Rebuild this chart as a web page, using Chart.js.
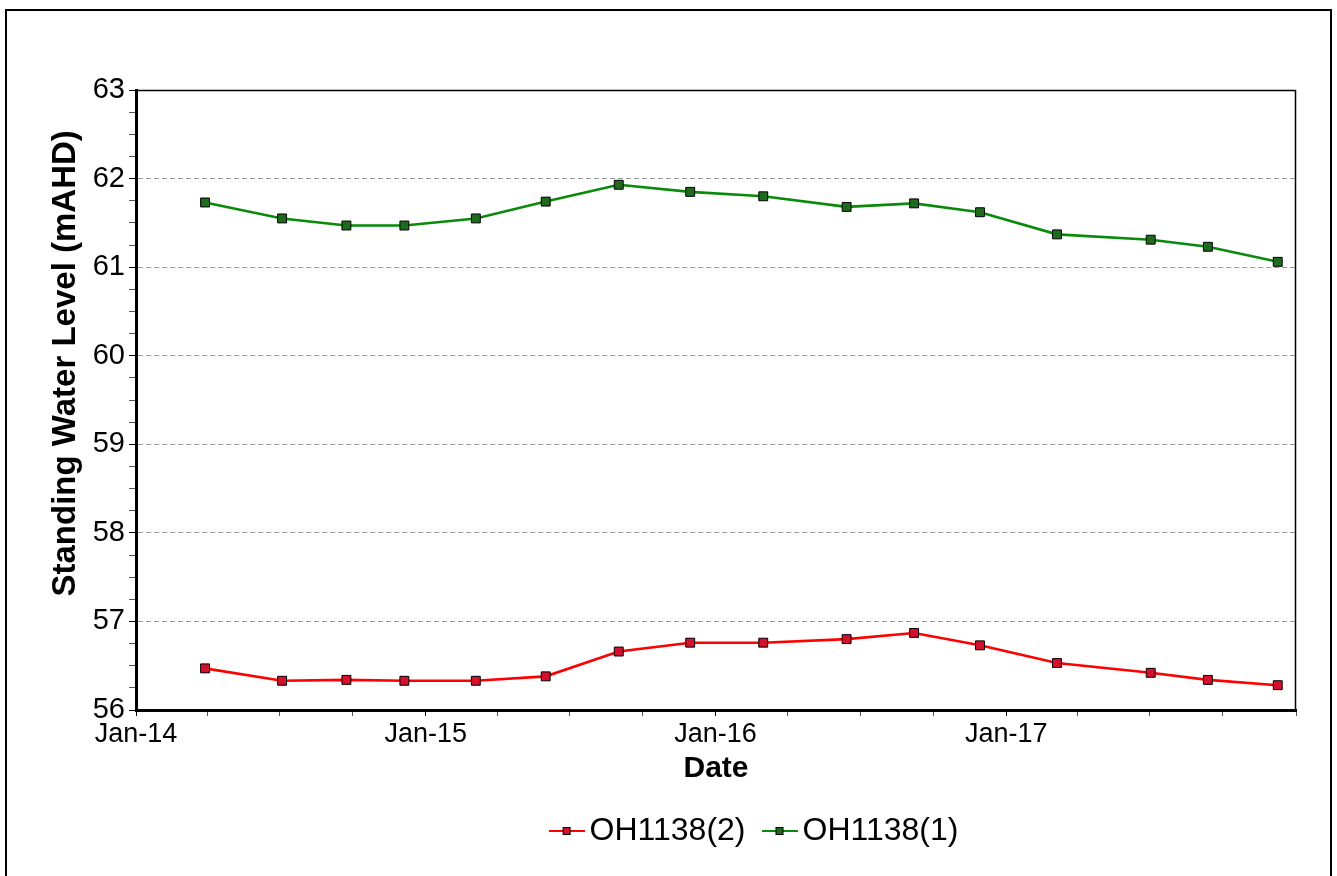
<!DOCTYPE html>
<html>
<head>
<meta charset="utf-8">
<script src="https://cdn.jsdelivr.net/npm/chart.js@4.4.0/dist/chart.umd.min.js"></script>
<style>
html,body{margin:0;padding:0;background:#fff;}
#wrap{position:relative;width:1337px;height:876px;}
</style>
</head>
<body>
<div id="wrap"><canvas id="c" width="1337" height="876"></canvas></div>
<script>
// ---- data ----
const sampleDates = ['2014-03-29','2014-07-04','2014-09-23','2014-12-05','2015-03-05','2015-06-01','2015-09-01','2015-11-30','2016-03-01','2016-06-14','2016-09-07','2016-11-29','2017-03-06','2017-07-02','2017-09-12','2017-12-09'];
const oh1138_2 = [56.47,56.33,56.34,56.33,56.33,56.38,56.66,56.76,56.76,56.80,56.87,56.73,56.53,56.42,56.34,56.28];
const oh1138_1 = [61.73,61.55,61.47,61.47,61.55,61.74,61.93,61.85,61.80,61.68,61.72,61.62,61.37,61.31,61.23,61.06];
const seriesNames = ['OH1138(2)','OH1138(1)'];
const xTickLabels = ['Jan-14','Jan-15','Jan-16','Jan-17'];
const xStart = '2014-01-01';
const xEnd = '2018-01-01';
const yTickLabels = ['56','57','58','59','60','61','62','63'];
const yTitle = 'Standing Water Level (mAHD)';
const xTitle = 'Date';

// ---- helpers ----
const DAY = 86400000;
const t0 = Date.parse(xStart);
const dayOf = s => (Date.parse(s) - t0) / DAY;
const FONT = "'Liberation Sans', Arial, Helvetica, sans-serif";

// quarterly tick positions (minor) with yearly labels
const quarterTicks = [];
for (let y = 2014; y <= 2018; y++) {
  for (let m = 0; m < 12; m += 3) {
    const d = Date.UTC(y, m, 1);
    if (d > Date.parse(xEnd)) break;
    quarterTicks.push({ value: (d - t0) / DAY });
  }
}
const labelFor = {};
xTickLabels.forEach(l => {
  const yr = 2000 + parseInt(l.split('-')[1], 10);
  labelFor[(Date.UTC(yr, 0, 1) - t0) / DAY] = l;
});

function makeMarker(lineColor, fillColor) {
  const c = document.createElement('canvas');
  c.width = 36; c.height = 10;
  const g = c.getContext('2d');
  g.strokeStyle = lineColor; g.lineWidth = 2;
  g.beginPath(); g.moveTo(0, 5); g.lineTo(36, 5); g.stroke();
  g.fillStyle = fillColor; g.fillRect(14.5, 1.5, 7, 7);
  g.strokeStyle = '#000'; g.lineWidth = 1; g.strokeRect(14.5, 1.5, 7, 7);
  return c;
}
const styles = [
  { line: '#ff0000', fill: '#d4102c' },
  { line: '#0a8a0a', fill: '#1e6b1e' }
];
const markers = styles.map(s => makeMarker(s.line, s.fill));

const toPts = vals => vals.map((v, i) => ({ x: dayOf(sampleDates[i]), y: v }));

const framePlugin = {
  id: 'frame',
  beforeDraw(chart) {
    const ctx = chart.ctx;
    ctx.save();
    ctx.fillStyle = '#fff';
    ctx.fillRect(0, 0, chart.width, chart.height);
    ctx.strokeStyle = '#000';
    ctx.lineWidth = 2;
    ctx.strokeRect(6, 10, 1325, 880);
    ctx.restore();
  },
  beforeDatasetsDraw(chart) {
    const { ctx, chartArea: a } = chart;
    ctx.save();
    ctx.strokeStyle = '#000';
    ctx.lineWidth = 1.5;
    ctx.beginPath();
    ctx.moveTo(a.left, a.top + 0.5);
    ctx.lineTo(a.right - 0.5, a.top + 0.5);
    ctx.lineTo(a.right - 0.5, a.bottom);
    ctx.stroke();
    ctx.restore();
  },
  afterLayout(chart) {
    const lg = chart.legend;
    if (lg) { lg.left += 111; lg.right += 111; }
  }
};

new Chart(document.getElementById('c'), {
  type: 'line',
  data: {
    datasets: [
      {
        label: seriesNames[0],
        data: toPts(oh1138_2),
        borderColor: styles[0].line,
        backgroundColor: styles[0].fill,
        pointBackgroundColor: styles[0].fill,
        pointBorderColor: '#000',
        pointBorderWidth: 1,
        pointStyle: 'rect',
        pointRadius: 6.3,
        borderWidth: 2.6,
        tension: 0,
        fill: false
      },
      {
        label: seriesNames[1],
        data: toPts(oh1138_1),
        borderColor: styles[1].line,
        backgroundColor: styles[1].fill,
        pointBackgroundColor: styles[1].fill,
        pointBorderColor: '#000',
        pointBorderWidth: 1,
        pointStyle: 'rect',
        pointRadius: 6.3,
        borderWidth: 2.6,
        tension: 0,
        fill: false
      }
    ]
  },
  options: {
    responsive: false,
    animation: false,
    devicePixelRatio: 1,
    layout: { padding: { top: 90, right: 41, left: 0, bottom: 19 } },
    plugins: {
      tooltip: { enabled: false },
      legend: {
        position: 'bottom',
        align: 'center',
        labels: {
          usePointStyle: true,
          pointStyleWidth: 14,
          padding: 27,
          color: '#000',
          font: { family: FONT, size: 32 },
          generateLabels: chart => chart.data.datasets.map((ds, i) => ({
            text: ds.label,
            pointStyle: markers[i],
            datasetIndex: i,
            hidden: false,
            fontColor: '#000',
            lineWidth: 0,
            strokeStyle: 'rgba(0,0,0,0)',
            fillStyle: 'rgba(0,0,0,0)'
          }))
        }
      }
    },
    scales: {
      x: {
        type: 'linear',
        min: 0,
        max: dayOf(xEnd),
        afterBuildTicks: s => { s.ticks = quarterTicks.map(q => ({ value: q.value })); },
        afterFit: s => { s.height = 78; },
        ticks: {
          autoSkip: false,
          maxRotation: 0,
          minRotation: 0,
          padding: 2,
          color: '#000',
          font: { family: FONT, size: 27 },
          callback: v => labelFor[v] !== undefined ? labelFor[v] : ''
        },
        grid: {
          drawOnChartArea: false,
          drawTicks: true,
          tickLength: 6,
          tickWidth: 1,
          tickColor: ctx => (labelFor[ctx.tick && ctx.tick.value] !== undefined ? '#000' : '#555')
        },
        border: { display: true, color: '#000', width: 3 },
        title: {
          display: true,
          text: xTitle,
          color: '#000',
          font: { family: FONT, size: 30, weight: 'bold' },
          padding: { top: 0, bottom: 1 }
        }
      },
      y: {
        type: 'linear',
        min: 56,
        max: 63,
        afterFit: s => { s.width = 136; },
        ticks: {
          stepSize: 0.25,
          autoSkip: false,
          padding: 4,
          color: '#000',
          font: { family: FONT, size: 29 },
          callback: v => {
            const idx = yTickLabels.indexOf(String(v));
            return idx >= 0 ? yTickLabels[idx] : '';
          }
        },
        grid: {
          drawOnChartArea: true,
          drawTicks: true,
          tickLength: 7,
          tickWidth: 1,
          lineWidth: 1,
          color: ctx => {
            const v = ctx.tick && ctx.tick.value;
            return (Number.isInteger(v) && v > 56 && v < 63) ? '#9a9a9a' : 'rgba(0,0,0,0)';
          },
          tickColor: ctx => (Number.isInteger(ctx.tick && ctx.tick.value) ? '#000' : '#555')
        },
        border: { display: true, color: '#000', width: 3, dash: [5, 3] },
        title: {
          display: true,
          text: '        ' + yTitle,
          color: '#000',
          font: { family: FONT, size: 33, weight: 'bold' },
          padding: { top: 46, bottom: 0 }
        }
      }
    }
  },
  plugins: [framePlugin]
});
</script>
</body>
</html>
